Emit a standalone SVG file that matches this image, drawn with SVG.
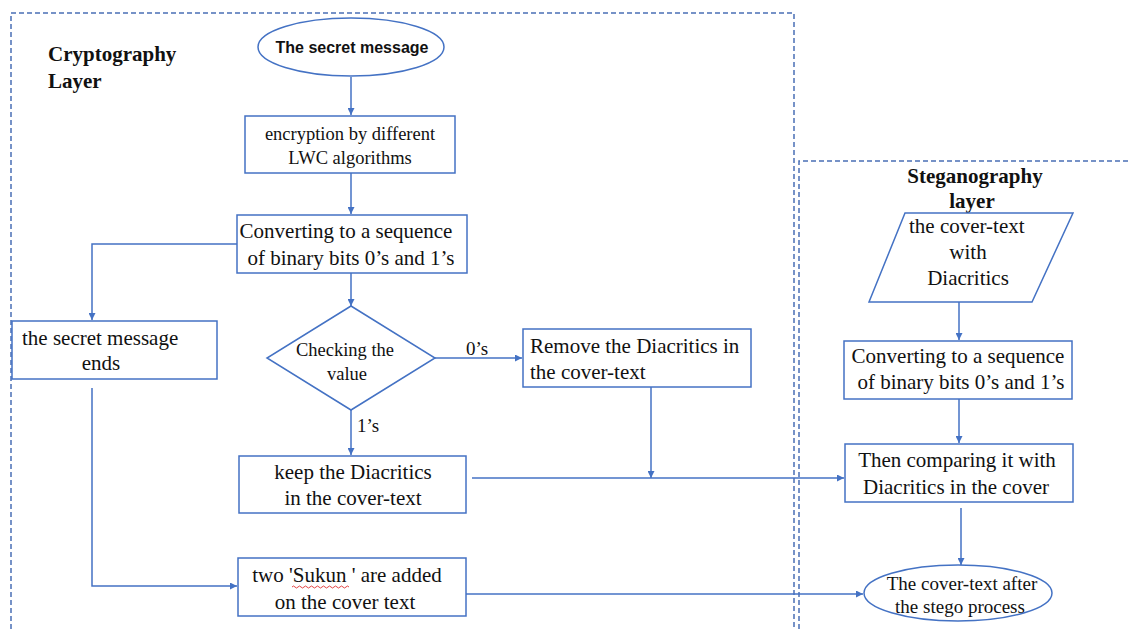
<svg xmlns="http://www.w3.org/2000/svg" width="1129" height="629" viewBox="0 0 1129 629">
  <style>
    .box { fill: #ffffff; stroke: #4472c4; stroke-width: 1.5; }
    .layer { fill: none; stroke: #4a6fb5; stroke-width: 1.5; stroke-dasharray: 5 3; }
    .wire { fill: none; stroke: #4472c4; stroke-width: 1.5; }
    .t { font-family: "Liberation Serif", "Times New Roman", serif; font-size: 21px; fill: #111111; }
    .c { text-anchor: middle; }
    .h { font-family: "Liberation Serif", "Times New Roman", serif; font-size: 21px; font-weight: bold; fill: #111111; }
    .sans { font-family: "Liberation Sans", Arial, sans-serif; font-size: 16px; font-weight: bold; fill: #111111; }
  </style>
  <defs>
    <marker id="arrow" viewBox="0 0 10 10" refX="10" refY="5" markerWidth="7" markerHeight="7" markerUnits="userSpaceOnUse" orient="auto">
      <path d="M0,0 L10,5 L0,10 z" fill="#4472c4"/>
    </marker>
  </defs>

  <rect width="1129" height="629" fill="#ffffff"/>

  <!-- layer frames -->
  <g id="layers">
    <path class="layer" d="M11,629 V13 H794 V629"/>
    <path class="layer" d="M799,629 V161 H1129"/>
    <text class="h" x="48" y="61">Cryptography</text>
    <text class="h" x="48" y="88">Layer</text>
    <text class="h c" x="975" y="183">Steganography</text>
    <text class="h c" x="972" y="208">layer</text>
  </g>

  <!-- connectors -->
  <g id="connectors">
    <path class="wire" d="M351,77 V115" marker-end="url(#arrow)"/>
    <path class="wire" d="M351,173 V214" marker-end="url(#arrow)"/>
    <path class="wire" d="M237,244 H92 V320" marker-end="url(#arrow)"/>
    <path class="wire" d="M351,273 V306" marker-end="url(#arrow)"/>
    <path class="wire" d="M435,358 H522" marker-end="url(#arrow)"/>
    <text class="t" x="466" y="355" style="font-size:19px">0’s</text>
    <path class="wire" d="M351,410 V455" marker-end="url(#arrow)"/>
    <text class="t" x="357" y="432" style="font-size:19px">1’s</text>
    <path class="wire" d="M651,387 V478" marker-end="url(#arrow)"/>
    <path class="wire" d="M472,478 H844" marker-end="url(#arrow)"/>
    <path class="wire" d="M92,388 V586 H237" marker-end="url(#arrow)"/>
    <path class="wire" d="M466,594 H863" marker-end="url(#arrow)"/>
    <path class="wire" d="M959,302 V340" marker-end="url(#arrow)"/>
    <path class="wire" d="M959,399 V443" marker-end="url(#arrow)"/>
    <path class="wire" d="M961,508 V565" marker-end="url(#arrow)"/>
  </g>

  <!-- cryptography layer nodes -->
  <g id="secret-message">
    <ellipse class="box" cx="351" cy="47" rx="93" ry="29"/>
    <text class="sans c" x="352" y="53">The secret message</text>
  </g>

  <g id="encryption">
    <rect class="box" x="245" y="116" width="210" height="57"/>
    <text class="t c" x="350" y="140" style="font-size:18.5px">encryption by different</text>
    <text class="t c" x="350" y="164" style="font-size:18.5px">LWC algorithms</text>
  </g>

  <g id="convert-bits">
    <rect class="box" x="237" y="215" width="230" height="58"/>
    <text class="t c" x="346" y="238">Converting to a sequence</text>
    <text class="t c" x="351" y="265">of binary bits 0’s and 1’s</text>
  </g>

  <g id="check-value">
    <polygon class="box" points="351,306 435,358 351,410 267,358"/>
    <text class="t c" x="345" y="356" style="font-size:18.5px">Checking the</text>
    <text class="t c" x="347" y="380" style="font-size:18.5px">value</text>
  </g>

  <g id="remove-diacritics">
    <rect class="box" x="523" y="329" width="228" height="58"/>
    <text class="t" x="530" y="353">Remove the Diacritics in</text>
    <text class="t" x="530" y="379">the cover-text</text>
  </g>

  <g id="message-ends">
    <rect class="box" x="12" y="321" width="205" height="58"/>
    <text class="t" x="22" y="345">the secret message</text>
    <text class="t c" x="101" y="370">ends</text>
  </g>

  <g id="keep-diacritics">
    <rect class="box" x="239" y="456" width="227" height="57"/>
    <text class="t c" x="353" y="479">keep the Diacritics</text>
    <text class="t c" x="353" y="505">in the cover-text</text>
  </g>

  <g id="add-sukun">
    <rect class="box" x="238" y="558" width="228" height="58"/>
    <text class="t c" x="347" y="582">two 'Sukun ' are added</text>
    <path d="M292,587 q1.5,-2 3,0 t3,0 t3,0 t3,0 t3,0 t3,0 t3,0 t3,0 t3,0 t3,0 t3,0 t3,0 t3,0 t3,0 t3,0 t3,0 t3,0 t3,0 t3,0" fill="none" stroke="#e03030" stroke-width="0.9"/>
    <text class="t c" x="345" y="609">on the cover text</text>
  </g>

  <!-- steganography layer nodes -->
  <g id="cover-text">
    <polygon class="box" points="905,213 1073,213 1032,302 869,302"/>
    <text class="t" x="909" y="233">the cover-text</text>
    <text class="t c" x="968" y="259">with</text>
    <text class="t c" x="968" y="285">Diacritics</text>
  </g>

  <g id="convert-bits-stego">
    <rect class="box" x="844" y="341" width="228" height="58"/>
    <text class="t c" x="958" y="363">Converting to a sequence</text>
    <text class="t c" x="961" y="389">of binary bits 0’s and 1’s</text>
  </g>

  <g id="compare">
    <rect class="box" x="845" y="444" width="228" height="58"/>
    <text class="t c" x="957" y="467">Then comparing it with</text>
    <text class="t c" x="956" y="494">Diacritics in the cover</text>
  </g>

  <g id="stego-result">
    <ellipse class="box" cx="958" cy="593" rx="94" ry="28"/>
    <text class="t c" x="962" y="590" style="font-size:19px">The cover-text after</text>
    <text class="t c" x="960" y="613" style="font-size:19px">the stego process</text>
  </g>
</svg>
